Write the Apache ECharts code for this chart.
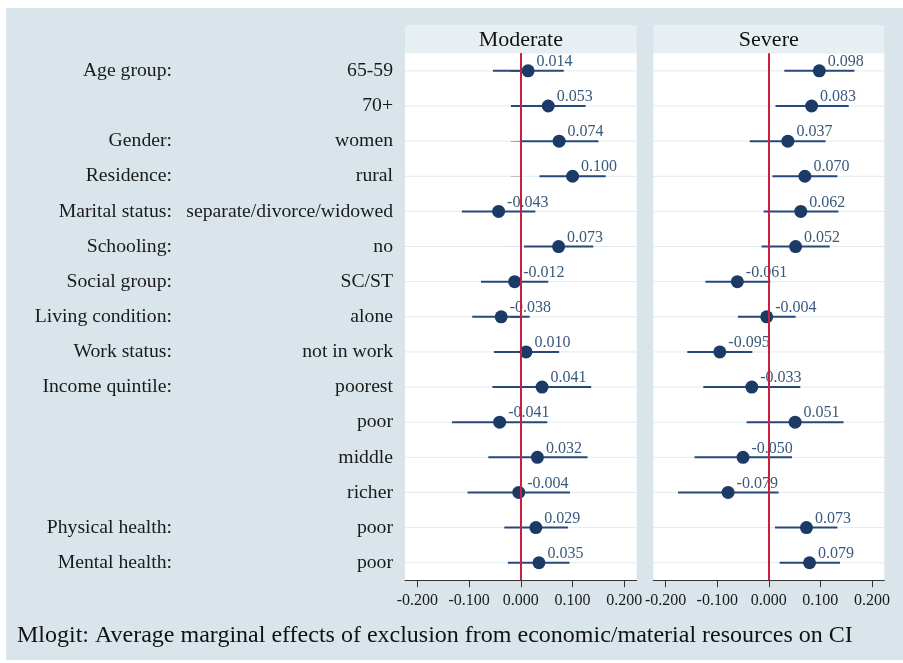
<!DOCTYPE html>
<html>
<head>
<meta charset="utf-8">
<script src="https://cdn.jsdelivr.net/npm/echarts@6/dist/echarts.min.js"></script>
<style>
html,body{margin:0;padding:0;background:#ffffff;}
#chart{width:903px;height:663px;}
</style>
</head>
<body>
<div id="chart"></div>
<script>
// ---- data ----
const rowLabels = ['65-59','70+','women','rural','separate/divorce/widowed','no','SC/ST','alone','not in work','poorest','poor','middle','richer','poor','poor'];
const groupLabels = ['Age group:','','Gender:','Residence:','Marital status:','Schooling:','Social group:','Living condition:','Work status:','Income quintile:','','','','Physical health:','Mental health:'];
const panelTitles = ['Moderate','Severe'];
const modEst = [0.014,0.053,0.074,0.100,-0.043,0.073,-0.012,-0.038,0.010,0.041,-0.041,0.032,-0.004,0.029,0.035];
const modLo  = [-0.054,-0.019,-0.002,0.036,-0.114,0.006,-0.077,-0.094,-0.052,-0.055,-0.133,-0.063,-0.103,-0.032,-0.025];
const modHi  = [0.083,0.125,0.150,0.164,0.028,0.140,0.053,0.017,0.074,0.136,0.051,0.129,0.095,0.091,0.094];
const sevEst = [0.098,0.083,0.037,0.070,0.062,0.052,-0.061,-0.004,-0.095,-0.033,0.051,-0.050,-0.079,0.073,0.079];
const sevLo  = [0.030,0.013,-0.037,0.007,-0.010,-0.014,-0.123,-0.060,-0.158,-0.127,-0.043,-0.144,-0.176,0.012,0.021];
const sevHi  = [0.166,0.155,0.110,0.133,0.135,0.118,0.003,0.052,-0.032,0.061,0.145,0.045,0.019,0.133,0.138];
const xTicks = [-0.2,-0.1,0,0.1,0.2];
const footerText = 'Mlogit: Average marginal effects of exclusion from economic/material resources on CI';

// ---- styles ----
const FONT = '"Liberation Serif","Times New Roman",serif';
const BG = '#d9e5eb';
const HEAD = '#e8eff2';
const CI_COLOR = '#26497a';
const DOT_COLOR = '#1b3b66';
const RED = '#cc1f3f';
const GRIDLINE = '#e2eaef';

const grids = [
  {left:405, top:53.3, width:231.7, height:527},
  {left:653.3, top:53.3, width:231, height:527}
];

const chart = echarts.init(document.getElementById('chart'));

function xAxisFor(gi){
  return {
    type:'value', gridIndex:gi, min:-0.224, max:0.224,
    axisLine:{show:true, onZero:false, lineStyle:{color:'#333', width:1}},
    axisTick:{show:true, length:7, customValues:xTicks, lineStyle:{color:'#333', width:1}},
    axisLabel:{show:true, customValues:xTicks, margin:12, fontFamily:FONT, fontSize:16, color:'#1a1a1a',
      formatter:v=>v.toFixed(3)},
    splitLine:{show:false}
  };
}

const rowIdx = rowLabels.map((_,i)=>i);

function gridSeries(gi){
  return {
    type:'custom', xAxisIndex:gi, yAxisIndex:gi, z:1, silent:true,
    data: rowIdx.map(i=>[0,i]),
    encode:{x:0,y:1},
    renderItem(params, api){
      const cs = params.coordSys;
      const y = api.coord([0, api.value(1)])[1];
      return {type:'line', shape:{x1:cs.x, y1:y, x2:cs.x+cs.width, y2:y}, style:{stroke:GRIDLINE, lineWidth:1}};
    },
    markLine:{silent:true, symbol:'none', label:{show:false},
      lineStyle:{color:RED, width:2, type:'solid'},
      data:[{xAxis:0}]}
  };
}
function ciSeries(gi, lo, hi){
  return {
    type:'custom', xAxisIndex:gi, yAxisIndex:gi, z:3, silent:true,
    data: rowIdx.map(i=>[lo[i],hi[i],i]),
    encode:{x:[0,1], y:2},
    renderItem(params, api){
      const p1 = api.coord([api.value(0), api.value(2)]);
      const p2 = api.coord([api.value(1), api.value(2)]);
      return {type:'line', shape:{x1:p1[0], y1:p1[1], x2:p2[0], y2:p2[1]}, style:{stroke:CI_COLOR, lineWidth:2}};
    }
  };
}
function dotSeries(gi, est){
  return {
    type:'scatter', xAxisIndex:gi, yAxisIndex:gi, z:4, silent:true,
    symbol:'circle', symbolSize:13,
    itemStyle:{color:DOT_COLOR, opacity:1},
    data: rowIdx.map(i=>[est[i], i]),
    label:{show:true, position:'right', distance:2, offset:[0,-9],
      fontFamily:FONT, fontSize:16, color:'#39597b',
      formatter:p=>p.value[0].toFixed(3)}
  };
}

const option = {
  backgroundColor:'#ffffff',
  animation:false,
  grid: grids.map(g=>Object.assign({show:true, backgroundColor:'#ffffff', borderWidth:0, containLabel:false}, g)),
  xAxis:[xAxisFor(0), xAxisFor(1)],
  yAxis:[
    {type:'category', gridIndex:0, inverse:true, data:rowLabels,
      axisLine:{show:true, lineStyle:{color:'#333', width:1}},
      axisTick:{show:true, alignWithLabel:true, length:10, lineStyle:{color:'#333'}},
      axisLabel:{margin:12, fontFamily:FONT, fontSize:19.7, color:'#1a1a1a'},
      splitLine:{show:false}},
    {type:'category', gridIndex:1, inverse:true, data:rowLabels,
      axisLine:{show:false}, axisTick:{show:false}, axisLabel:{show:false}, splitLine:{show:false}},
    {type:'category', gridIndex:0, inverse:true, data:groupLabels, position:'left', offset:221,
      axisLine:{show:false}, axisTick:{show:false},
      axisLabel:{margin:12, fontFamily:FONT, fontSize:19.7, color:'#1a1a1a'},
      splitLine:{show:false}}
  ],
  graphic:[
    {type:'rect', z:-10, silent:true, shape:{x:6, y:8, width:897, height:652}, style:{fill:BG}},
    ...grids.map((g,k)=>({
      type:'group', silent:true,
      children:[
        {type:'rect', shape:{x:g.left, y:25, width:g.width, height:28.3}, style:{fill:HEAD}},
        {type:'text', x:g.left+g.width/2, y:40, style:{text:panelTitles[k], font:'22px '+FONT, fill:'#111', align:'center', verticalAlign:'middle'}}
      ]
    })),
    {type:'text', silent:true, x:17, y:636, style:{text:footerText, font:'24px '+FONT, fill:'#111', align:'left', verticalAlign:'middle'}}
  ],
  series:[
    gridSeries(0), gridSeries(1),
    ciSeries(0, modLo, modHi), ciSeries(1, sevLo, sevHi),
    dotSeries(0, modEst), dotSeries(1, sevEst)
  ]
};
chart.setOption(option);
</script>
</body>
</html>
